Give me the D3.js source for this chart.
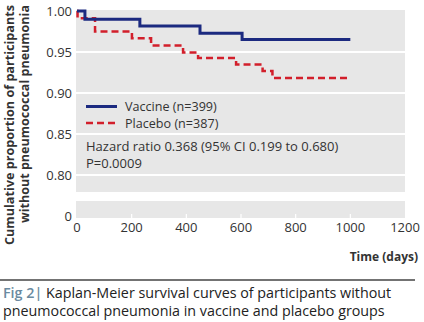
<!DOCTYPE html>
<html>
<head>
<meta charset="utf-8">
<script src="https://cdn.jsdelivr.net/npm/d3@7"></script>
<style>
  body { margin: 0; background: #fff; }
  text { font-family: "Open Sans", "Noto Sans", sans-serif; }
</style>
</head>
<body>
<div id="chart"></div>
<script>
// data
var vaccineDays = [0, 29, 230, 450, 604, 1000];
var vaccineSurv = [1.000, 0.990, 0.9817, 0.9728, 0.9652, 0.9652];
var placeboDays = [0, 2, 66, 201, 271, 388, 443, 582, 679, 715, 1000];
var placeboSurv = [1.000, 0.9911, 0.975, 0.9667, 0.958, 0.9494, 0.9427, 0.9348, 0.9268, 0.9183, 0.9183];
var xTicks = [0, 200, 400, 600, 800, 1000, 1200];
var yTicks = [1.00, 0.95, 0.90, 0.85, 0.80];
var legendLabels = ["Vaccine (n=399)", "Placebo (n=387)"];
var statLines = ["Hazard ratio 0.368 (95% CI 0.199 to 0.680)", "P=0.0009"];

var W = 424, H = 322;
var svg = d3.select("#chart").append("svg")
  .attr("width", W).attr("height", H);

var plot = { left: 76, right: 405, top: 10, breakTop: 192, lowTop: 201, bottom: 218 };

var x = d3.scaleLinear().domain([0, 1200]).range([77, 405]);
var y = d3.scaleLinear().domain([0.80, 1.00]).range([175, 11]);

// grey panels (upper part + axis-break part)
svg.append("rect")
  .attr("x", plot.left).attr("y", plot.top)
  .attr("width", plot.right - plot.left).attr("height", plot.breakTop - plot.top)
  .attr("fill", "#e7e7e7");
svg.append("rect")
  .attr("x", plot.left).attr("y", plot.lowTop)
  .attr("width", plot.right - plot.left).attr("height", plot.bottom - plot.lowTop)
  .attr("fill", "#e7e7e7");

// white gridlines
svg.selectAll(".grid")
  .data(yTicks.slice(1))
  .enter().append("line")
  .attr("x1", plot.left).attr("x2", plot.right)
  .attr("y1", function(d) { return y(d); })
  .attr("y2", function(d) { return y(d); })
  .attr("stroke", "#fff").attr("stroke-width", 2);

// small white ticks at the bottom
svg.selectAll(".xt")
  .data(xTicks.slice(1, -1))
  .enter().append("line")
  .attr("x1", function(d) { return x(d); })
  .attr("x2", function(d) { return x(d); })
  .attr("y1", plot.bottom).attr("y2", plot.bottom - 4)
  .attr("stroke", "#fff").attr("stroke-width", 1.2);

// y tick labels
svg.selectAll(".ylab")
  .data(yTicks)
  .enter().append("text")
  .attr("x", 72)
  .attr("y", function(d) { return y(d); })
  .attr("dy", "0.35em")
  .attr("text-anchor", "end")
  .attr("font-size", 13).attr("fill", "#333")
  .text(function(d) { return d3.format(".2f")(d); });
svg.append("text")
  .attr("x", 72).attr("y", 216).attr("dy", "0.35em")
  .attr("text-anchor", "end")
  .attr("font-size", 13).attr("fill", "#333")
  .text("0");

// x tick labels
svg.selectAll(".xlab")
  .data(xTicks)
  .enter().append("text")
  .attr("x", function(d) { return x(d); })
  .attr("y", 232)
  .attr("text-anchor", "middle")
  .attr("font-size", 13).attr("fill", "#333")
  .text(function(d) { return d; });

// axis titles
svg.append("text")
  .attr("x", 418).attr("y", 261)
  .attr("text-anchor", "end")
  .attr("font-size", 12).attr("font-weight", 700).attr("fill", "#333")
  .text("Time (days)");

var yTitle = ["Cumulative proportion of participants", "without pneumococcal pneumonia"];
var yTitleX = [14, 29], yTitleLen = [240, 218];
yTitle.forEach(function(t, i) {
  svg.append("text")
    .attr("transform", "translate(" + yTitleX[i] + ",5) rotate(-90)")
    .attr("text-anchor", "end")
    .attr("font-size", 12).attr("font-weight", 700).attr("fill", "#333")
    .attr("textLength", yTitleLen[i]).attr("lengthAdjust", "spacingAndGlyphs")
    .text(t);
});

// survival curves
var line = d3.line()
  .curve(d3.curveStepAfter)
  .x(function(d) { return x(d[0]); })
  .y(function(d) { return y(d[1]); });

svg.append("path")
  .datum(d3.zip(placeboDays, placeboSurv))
  .attr("d", line)
  .attr("fill", "none")
  .attr("stroke", "#d21f2b")
  .attr("stroke-width", 2.5)
  .attr("stroke-dasharray", "7,4");

svg.append("path")
  .datum(d3.zip(vaccineDays, vaccineSurv))
  .attr("d", line)
  .attr("fill", "none")
  .attr("stroke", "#1c2a80")
  .attr("stroke-width", 3);

// legend
var legY = [106.5, 123];
svg.append("line")
  .attr("x1", 86).attr("x2", 117).attr("y1", legY[0]).attr("y2", legY[0])
  .attr("stroke", "#1c2a80").attr("stroke-width", 3);
svg.append("line")
  .attr("x1", 86).attr("x2", 117).attr("y1", legY[1]).attr("y2", legY[1])
  .attr("stroke", "#d21f2b").attr("stroke-width", 2.5)
  .attr("stroke-dasharray", "7,4");
var legTextY = [110.5, 128];
legendLabels.forEach(function(t, i) {
  svg.append("text")
    .attr("x", 125).attr("y", legTextY[i])
    .attr("font-size", 12.6).attr("fill", "#333")
    .text(t);
});
var statY = [151, 168];
statLines.forEach(function(t, i) {
  svg.append("text")
    .attr("x", 86).attr("y", statY[i])
    .attr("font-size", 13).attr("fill", "#333")
    .text(t);
});

// rule and caption
svg.append("line")
  .attr("x1", 0).attr("x2", 415).attr("y1", 280).attr("y2", 280)
  .attr("stroke", "#444").attr("stroke-width", 1.5);

var cap1 = svg.append("text")
  .attr("x", 3).attr("y", 298)
  .attr("font-size", 14.3).attr("fill", "#222");
cap1.append("tspan").attr("fill", "#6a8aa0").attr("font-weight", 600).text("Fig 2| ");
cap1.append("tspan").text("Kaplan-Meier survival curves of participants without");
svg.append("text")
  .attr("x", 3).attr("y", 316)
  .attr("font-size", 14.3).attr("fill", "#222")
  .text("pneumococcal pneumonia in vaccine and placebo groups");
</script>
</body>
</html>
